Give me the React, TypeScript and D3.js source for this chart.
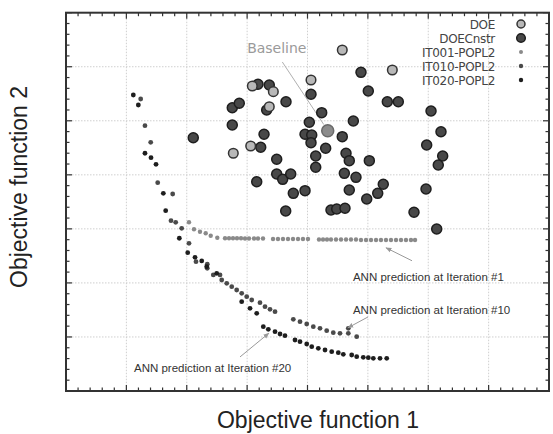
import React from "react";
import * as d3 from "d3";

const W = 553;
const H = 434;

// grid units (no tick labels shown)
const xMajor = [0, 1, 2, 3, 4, 5, 6, 7, 8];
const yMajor = [0, 1, 2, 3, 4, 5, 6, 7];

const legendLabels = ["DOE", "DOECnstr", "IT001-POPL2", "IT010-POPL2", "IT020-POPL2"];

const doeX = [3.086, 3.434, 3.367, 3.059, 2.771, 4.058, 4.576, 5.405];
const doeY = [5.644, 5.539, 5.261, 4.534, 4.399, 5.755, 6.31, 5.94];

const baselineX = [4.335];
const baselineY = [4.817];

const cnstrX = [3.18, 3.367, 2.754, 2.87, 3.644, 3.324, 2.754, 2.108, 3.28, 3.225, 3.49, 3.49, 3.589, 3.722, 3.159, 3.765, 3.959, 4.058, 4.886, 5.007, 5.322, 5.504, 6.046, 4.235, 4.759, 4.03, 3.959, 4.07, 4.576, 4.058, 6.211, 4.301, 4.638, 4.692, 4.136, 4.136, 5.024, 5.974, 6.239, 6.166, 4.61, 4.803, 4.692, 5.255, 5.163, 4.981, 5.963, 4.389, 4.484, 4.621, 5.764, 6.14, 3.639];
const cnstrY = [5.675, 5.662, 5.242, 5.324, 5.353, 5.2, 4.922, 4.687, 4.75, 4.51, 4.288, 4.016, 3.917, 4.016, 3.873, 3.658, 3.707, 5.49, 5.897, 5.551, 5.353, 5.353, 5.181, 5.15, 4.996, 4.972, 4.75, 4.737, 4.706, 4.595, 4.798, 4.491, 4.399, 4.262, 4.349, 4.14, 4.262, 4.552, 4.349, 4.182, 4.028, 3.954, 3.719, 3.825, 3.658, 3.553, 3.738, 3.349, 3.368, 3.381, 3.307, 2.998, 3.331];

const it001X = [2.037, 2.12, 2.219, 2.314, 2.397, 2.506, 2.634, 2.7, 2.766, 2.832, 2.899, 2.965, 3.031, 3.114, 3.18, 3.263, 3.429, 3.511, 3.594, 3.677, 3.76, 3.843, 3.925, 4.008, 4.19, 4.257, 4.323, 4.389, 4.472, 4.555, 4.638, 4.72, 4.803, 4.886, 4.969, 5.052, 5.135, 5.217, 5.3, 5.383, 5.466, 5.549, 5.631, 5.714, 5.781];
const it001Y = [3.122, 2.992, 2.948, 2.918, 2.874, 2.837, 2.826, 2.826, 2.826, 2.826, 2.826, 2.822, 2.822, 2.822, 2.822, 2.822, 2.813, 2.813, 2.813, 2.813, 2.813, 2.813, 2.813, 2.813, 2.803, 2.803, 2.803, 2.803, 2.803, 2.803, 2.803, 2.803, 2.803, 2.794, 2.794, 2.794, 2.794, 2.794, 2.794, 2.794, 2.794, 2.794, 2.794, 2.794, 2.794];

const it010X = [1.237, 1.308, 1.403, 1.519, 1.767, 1.739, 1.817, 1.916, 2.037, 2.153, 2.34, 2.34, 2.44, 2.551, 2.579, 2.662, 2.745, 2.827, 2.91, 2.993, 3.076, 3.213, 3.296, 3.379, 3.462, 3.765, 3.876, 3.987, 4.096, 4.207, 4.318, 4.427, 4.538, 4.676, 4.676, 4.815];
const it010Y = [5.403, 4.909, 4.602, 3.855, 3.645, 3.151, 3.122, 3.011, 2.733, 2.393, 2.345, 2.271, 2.147, 2.147, 2.054, 1.993, 1.93, 1.869, 1.808, 1.745, 1.684, 1.634, 1.56, 1.512, 1.467, 1.327, 1.282, 1.24, 1.19, 1.16, 1.116, 1.079, 1.068, 1.068, 1.16, 1.005];

const it020X = [1.115, 1.198, 1.308, 1.408, 1.491, 1.612, 1.651, 1.877, 2.016, 2.137, 2.248, 2.33, 2.496, 2.91, 3.048, 3.159, 3.268, 3.351, 3.462, 3.545, 3.627, 3.793, 3.876, 3.987, 4.07, 4.179, 4.29, 4.401, 4.51, 4.593, 4.732, 4.815, 4.924, 5.007, 5.09, 5.201, 5.312];
const it020Y = [5.477, 5.292, 4.399, 4.317, 4.195, 3.658, 3.336, 2.826, 2.559, 2.474, 2.406, 2.3, 2.178, 1.652, 1.53, 1.438, 1.19, 1.142, 1.097, 1.055, 1.023, 0.944, 0.912, 0.87, 0.82, 0.79, 0.759, 0.727, 0.709, 0.679, 0.666, 0.635, 0.624, 0.616, 0.605, 0.605, 0.605];

// annotations (data units)
const annTexts = ["ANN prediction at Iteration #1", "ANN prediction at Iteration #10", "ANN prediction at Iteration #20"];
const annTextX = [4.753, 4.753, 1.126];
const annTextY = [2.03, 1.42, 0.35];
const annFromX = [5.731, 5.002, 2.882];
const annFromY = [2.41, 1.37, 0.63];
const annToX = [5.3, 4.67, 3.36];
const annToY = [2.65, 1.17, 1.07];

const baselineLabelX = [3.0];
const baselineLabelY = [6.256];

export default function App() {
  const left = 66, right = 549, top = 12.7, bottom = 391;
  const x = d3.scaleLinear().domain([0, 8]).range([left, right]);
  const y = d3.scaleLinear().domain([0, 7]).range([bottom, top]);

  const xMinor = d3.range(0, 8.0001, 0.2);
  const yMinor = d3.range(0, 7.0001, 0.2);

  const sans = "'Liberation Sans', Arial, sans-serif";
  const deja = "'DejaVu Sans', sans-serif";

  const legendX = 495;
  const legendMarkX = 521;
  const legendY0 = 24;
  const legendDy = 14;

  return (
    <svg width={W} height={H} style={{ position: "absolute", left: 0, top: 0, background: "#fff" }}>
      <defs>
        <marker id="ah" viewBox="0 0 10 10" refX="9" refY="5" markerWidth="6" markerHeight="6" orient="auto">
          <path d="M0,1 L10,5 L0,9 z" fill="#999" />
        </marker>
      </defs>
      <rect x={0} y={0} width={W} height={H} fill="#fff" />
      {xMajor.slice(1, -1).map((v) => (
        <line key={"gx" + v} x1={x(v)} x2={x(v)} y1={top} y2={bottom} stroke="#cfcfcf" strokeWidth={1} strokeDasharray="1.5,1.5" />
      ))}
      {yMajor.slice(1, -1).map((v) => (
        <line key={"gy" + v} x1={left} x2={right} y1={y(v)} y2={y(v)} stroke="#cfcfcf" strokeWidth={1} strokeDasharray="1.5,1.5" />
      ))}
      {xMinor.map((v, i) => {
        const len = i % 5 === 0 ? 6 : 3.5;
        return (
          <g key={"tx" + i}>
            <line x1={x(v)} x2={x(v)} y1={top} y2={top + len} stroke="#333" strokeWidth={1.2} />
            <line x1={x(v)} x2={x(v)} y1={bottom} y2={bottom - len} stroke="#333" strokeWidth={1.2} />
          </g>
        );
      })}
      {yMinor.map((v, i) => {
        const len = i % 5 === 0 ? 6 : 3.5;
        return (
          <g key={"ty" + i}>
            <line x1={left} x2={left + len} y1={y(v)} y2={y(v)} stroke="#333" strokeWidth={1.2} />
            <line x1={right} x2={right - len} y1={y(v)} y2={y(v)} stroke="#333" strokeWidth={1.2} />
          </g>
        );
      })}
      <rect x={left} y={top} width={right - left} height={bottom - top} fill="none" stroke="#333" strokeWidth={2} />

      <text x={x(baselineLabelX[0])} y={y(baselineLabelY[0])} fontFamily={deja} fontSize={14} fill="#9a9a9a">Baseline</text>
      <line x1={x(3.583)} y1={y(6.088)} x2={x(4.27)} y2={y(4.93)} stroke="#b0b0b0" strokeWidth={1} />

      {it001X.map((v, i) => (
        <circle key={"a" + i} cx={x(v)} cy={y(it001Y[i])} r={2.2} fill="#8a8a8a" />
      ))}
      {it010X.map((v, i) => (
        <circle key={"b" + i} cx={x(v)} cy={y(it010Y[i])} r={2.4} fill="#4a4a4a" />
      ))}
      {it020X.map((v, i) => (
        <circle key={"c" + i} cx={x(v)} cy={y(it020Y[i])} r={2.4} fill="#1e1e1e" />
      ))}
      {cnstrX.map((v, i) => (
        <circle key={"d" + i} cx={x(v)} cy={y(cnstrY[i])} r={5} fill="#484848" stroke="#1e1e1e" strokeWidth={1.5} />
      ))}
      {doeX.map((v, i) => (
        <circle key={"e" + i} cx={x(v)} cy={y(doeY[i])} r={4.8} fill="#b8b8b8" stroke="#333" strokeWidth={1.5} />
      ))}
      {baselineX.map((v, i) => (
        <circle key={"f" + i} cx={x(v)} cy={y(baselineY[i])} r={6} fill="#8c8c8c" stroke="#6a6a6a" strokeWidth={1.5} />
      ))}

      {annTexts.map((t, i) => (
        <g key={"ann" + i}>
          <line x1={x(annFromX[i])} y1={y(annFromY[i])} x2={x(annToX[i])} y2={y(annToY[i])} stroke="#999" strokeWidth={1} markerEnd="url(#ah)" />
          <text x={x(annTextX[i])} y={y(annTextY[i])} fontFamily={sans} fontSize={11.5} fill="#333">{t}</text>
        </g>
      ))}

      {legendLabels.map((t, i) => (
        <text key={"lt" + i} x={legendX} y={legendY0 + i * legendDy + 4.5} textAnchor="end" fontFamily={deja} fontSize={12} fill="#444" letterSpacing={-0.3}>{t}</text>
      ))}
      <circle cx={legendMarkX} cy={legendY0} r={4} fill="#b8b8b8" stroke="#333" strokeWidth={1.5} />
      <circle cx={legendMarkX} cy={legendY0 + legendDy} r={4.3} fill="#484848" stroke="#1e1e1e" strokeWidth={1.5} />
      <circle cx={legendMarkX} cy={legendY0 + 2 * legendDy} r={2} fill="#8a8a8a" />
      <circle cx={legendMarkX} cy={legendY0 + 3 * legendDy} r={2.2} fill="#4a4a4a" />
      <circle cx={legendMarkX} cy={legendY0 + 4 * legendDy} r={2.2} fill="#1e1e1e" />

      <text x={318} y={428} textAnchor="middle" fontFamily={sans} fontSize={23} fill="#222">Objective function 1</text>
      <text transform={`translate(27, 187) rotate(-90)`} textAnchor="middle" fontFamily={sans} fontSize={23} fill="#222">Objective function 2</text>
    </svg>
  );
}
